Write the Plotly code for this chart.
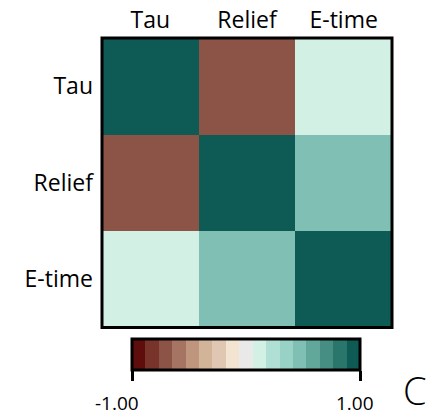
import plotly.graph_objects as go

labels = ["Tau", "Relief", "E-time"]
corr = [
    [1.00, -0.70, 0.12],
    [-0.70, 1.00, 0.47],
    [0.12, 0.47, 1.00],
]
bin_colors = [
    "#5e0d0d", "#78332a", "#8b5446", "#a57462", "#bf967d", "#d2b498",
    "#e0c7b4", "#f2e4d0", "#e9e9e9", "#d2f1e4", "#b0dfd5", "#98d1c5",
    "#80bfb3", "#62a89a", "#468e84", "#2a756c", "#0e5a54",
]
cbar_tickvals = [-1, 1]
cbar_ticktext = ["-1.00", "1.00"]

n = len(bin_colors)
colorscale = []
for i, c in enumerate(bin_colors):
    colorscale.append([i / n, c])
    colorscale.append([(i + 1) / n, c])

W, H = 434, 418
FONT = "Open Sans"
ZMIN, ZMAX = -1, 1

# colorbar geometry (pixels)
CB_X0, CB_X1 = 132, 360
CB_TOP = 339
CB_LEN = CB_X1 - CB_X0

fig = go.Figure(go.Heatmap(
    z=corr, x=labels, y=labels,
    colorscale=colorscale, zmin=ZMIN, zmax=ZMAX,
    xgap=0, ygap=0,
    colorbar=dict(
        orientation="h",
        lenmode="pixels", len=CB_LEN,
        thicknessmode="pixels", thickness=31,
        x=(CB_X0 + CB_X1) / 2 / W, xanchor="center",
        y=(H - CB_TOP) / H, yanchor="top",
        xpad=0, ypad=0,
        outlinecolor="black", outlinewidth=3,
        tickvals=cbar_tickvals, ticktext=cbar_ticktext,
        ticks="outside", ticklen=10, tickwidth=3, tickcolor="black",
        showticklabels=False,
    ),
))

# colorbar tick labels placed lower than plotly's default standoff
label_xshift = [-17, -4]
annotations = []
for v, t, dx in zip(cbar_tickvals, cbar_ticktext, label_xshift):
    px = CB_X0 + 1.5 + (v - ZMIN) / (ZMAX - ZMIN) * (CB_LEN - 3)
    annotations.append(dict(text=t, xref="paper", yref="paper",
                            x=px / W, y=(H - 403) / H, xshift=dx,
                            xanchor="center", yanchor="middle", showarrow=False,
                            font=dict(family=FONT, size=19, color="black")))
annotations.append(dict(text="C", xref="paper", yref="paper",
                        x=415 / W, y=(H - 390) / H, xanchor="center",
                        yanchor="middle", showarrow=False, borderpad=0,
                        font=dict(family=FONT, size=38, color="black", weight=300)))

fig.update_layout(
    width=W, height=H,
    margin=dict(l=0, r=0, t=0, b=0),
    paper_bgcolor="white", plot_bgcolor="white",
    xaxis=dict(domain=[102 / W, 392 / W], side="top", showgrid=False,
               zeroline=False, ticks="", ticklabelstandoff=4,
               tickfont=dict(family=FONT, size=23, color="black")),
    yaxis=dict(domain=[(H - 327.5) / H, (H - 38) / H], autorange="reversed",
               showgrid=False, zeroline=False, ticks="", ticklabelstandoff=8,
               tickfont=dict(family=FONT, size=23, color="black")),
    shapes=[dict(type="rect", xref="paper", yref="paper",
                 x0=102 / W, x1=392 / W, y0=(H - 327.5) / H, y1=(H - 38) / H,
                 line=dict(color="black", width=3))],
    annotations=annotations,
)

fig.write_html("out.html")
